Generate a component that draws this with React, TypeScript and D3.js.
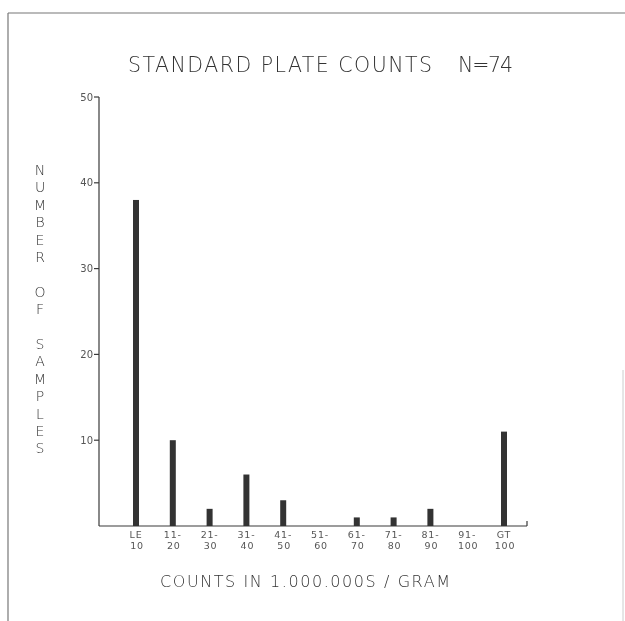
import React from "react";
import * as d3 from "d3";

const categories = ["LE|10", "11-|20", "21-|30", "31-|40", "41-|50", "51-|60", "61-|70", "71-|80", "81-|90", "91-|100", "GT|100"];
const counts = [38, 10, 2, 6, 3, 0, 1, 1, 2, 0, 11];
const yTicks = [10, 20, 30, 40, 50];
const titleMain = "STANDARD PLATE COUNTS";
const titleN = "N=74";
const xTitle = "COUNTS IN 1.000.000S / GRAM";
const yTitle = "NUMBER OF SAMPLES";

export default function App() {
  const W = 625, H = 621;
  const y = d3.scaleLinear().domain([0, 50]).range([526, 97]);
  const x = d3.scalePoint<string>().domain(categories).range([136, 504]);
  const axisX0 = 99, axisX1 = 527;
  const ink = "#3a3a3a";
  const txt = "#333";
  const font = "'DejaVu Sans', sans-serif";
  const letters = yTitle.split("");
  return (
    <svg width={W} height={H} style={{ position: "absolute", left: 0, top: 0, background: "#fff" }} fontFamily={font}>
      <defs>
        <filter id="gray" x="0" y="0" width="1" height="1" filterUnits="userSpaceOnUse">
          <feOffset dx={0} dy={0} />
        </filter>
      </defs>
      <rect x={0} y={0} width={W} height={H} fill="#fff" />
      {/* page border */}
      <line x1={8} y1={13} x2={625} y2={13} stroke="#777" strokeWidth={1.2} />
      <line x1={8} y1={13} x2={8} y2={621} stroke="#777" strokeWidth={1.2} />
      <line x1={623} y1={370} x2={623} y2={621} stroke="#ccc" strokeWidth={1} />
      <g style={{ filter: "grayscale(1)" }}>
        {/* title */}
        <g fontSize={20.5} fill={txt} fontWeight={200}>
          <text x={128} y={72} textLength={304} lengthAdjust="spacing" style={{ whiteSpace: "pre" }}>{titleMain}</text>
          <text x={458} y={72} textLength={55} lengthAdjust="spacing">{titleN}</text>
        </g>
        {/* y title stacked */}
        {letters.map((c, i) => (
          <text key={i} x={40} y={170 + i * 17.4 + 5} fontSize={14} fill={txt} fontWeight={200} textAnchor="middle">{c}</text>
        ))}
        <text x={160} y={587} fontSize={16} fill={txt} fontWeight={200} textLength={290} lengthAdjust="spacing" style={{ whiteSpace: "pre" }}>{xTitle}</text>
        {/* x labels */}
        {categories.map((c) => {
          const [a, b] = c.split("|");
          const cx = x(c) as number;
          return (
            <g key={c} fontSize={9.5} fill="#555" textAnchor="middle" letterSpacing={0.8}>
              <text x={cx} y={538}>{a}</text>
              <text x={cx + 1} y={549}>{b}</text>
            </g>
          );
        })}
        {yTicks.map((t) => (
          <text key={t} x={axisX0 - 6} y={y(t) + 3.5} fontSize={10} fill="#555" textAnchor="end">{t}</text>
        ))}
      </g>
      {/* axes */}
      <line x1={axisX0} y1={y(50)} x2={axisX0} y2={y(0)} stroke={ink} strokeWidth={1.2} />
      <line x1={axisX0} y1={y(0)} x2={axisX1} y2={y(0)} stroke={ink} strokeWidth={1.2} />
      <line x1={axisX1} y1={y(0)} x2={axisX1} y2={y(0) - 5} stroke={ink} strokeWidth={1.2} />
      {yTicks.map((t) => (
        <line key={t} x1={axisX0 - 5} y1={y(t)} x2={axisX0} y2={y(t)} stroke={ink} strokeWidth={1.2} />
      ))}
      {/* bars */}
      {categories.map((c, i) => (
        counts[i] > 0 ? (
          <rect key={c} x={(x(c) as number) - 3} y={y(counts[i])} width={6} height={y(0) - y(counts[i])} fill="#333" />
        ) : null
      ))}
    </svg>
  );
}
